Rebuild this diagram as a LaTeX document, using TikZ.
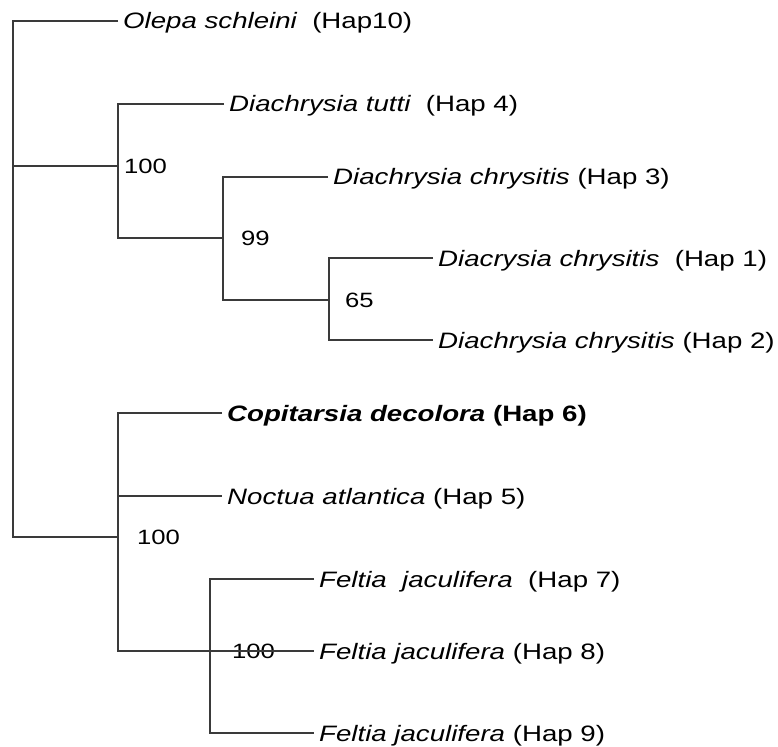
\documentclass[tikz,border=0pt]{standalone}
\usepackage{fontspec}
\setmainfont{Liberation Sans}[FakeStretch=1.24]
\definecolor{TreeGray}{HTML}{3A3A3A}

\begin{document}
\begin{tikzpicture}[x=1pt,y=-1pt,line join=miter,
  tree/.style={TreeGray,line width=1.3pt},
  leaf/.style={anchor=west,inner xsep=5pt,inner ysep=0pt,text height=16pt,text depth=0pt,font=\fontsize{22.3}{25}\selectfont},
  boot/.style={anchor=west,inner sep=0pt,text height=14.8pt,text depth=0pt,font=\fontsize{20.7}{24}\selectfont}]
  \useasboundingbox (0,0) rectangle (778,746);
  % internal nodes
  \coordinate (R) at (13,166); \coordinate (A) at (118,166); \coordinate (B) at (223,238); \coordinate (C) at (329,300);
  \coordinate (D) at (118,537); \coordinate (E) at (210,651);
  % leaves
  \node[leaf] (L10) at (118,21) {\itshape Olepa schleini\upshape\ \ (Hap10)};
  \node[leaf] (L4) at (224,104) {\itshape Diachrysia tutti\upshape\ \ (Hap 4)};
  \node[leaf] (L3) at (328,177) {\itshape Diachrysia chrysitis\upshape\ (Hap 3)};
  \node[leaf] (L1) at (433,258) {\itshape Diacrysia chrysitis\upshape\ \ (Hap 1)};
  \node[leaf] (L2) at (433,340) {\itshape Diachrysia chrysitis\upshape\ (Hap 2)};
  \node[leaf] (L6) at (222,413) {\bfseries\itshape Copitarsia decolora\upshape\ (Hap 6)};
  \node[leaf] (L5) at (222,496) {\itshape Noctua atlantica\upshape\ (Hap 5)};
  \node[leaf] (L7) at (314,579) {\itshape Feltia\ \ jaculifera\upshape\ \ (Hap 7)};
  \node[leaf] (L8) at (314,651) {\itshape Feltia jaculifera\upshape\ (Hap 8)};
  \node[leaf] (L9) at (314,733) {\itshape Feltia jaculifera\upshape\ (Hap 9)};
  % support values
  \node[boot] (bA) at (124,166) {100}; \node[boot] (bB) at (241,238) {99}; \node[boot] (bC) at (345,300) {65};
  \node[boot] (bD) at (137,537) {100}; \node[boot] (bE) at (232,651) {100};
  % branches
  \draw[tree] (L10.west) -| (R) |- (D); \draw[tree] (R) -- (A);
  \draw[tree] (L4.west) -| (A) |- (B); \draw[tree] (L3.west) -| (B) |- (C);
  \draw[tree] (L1.west) -| (C) |- (L2.west);
  \draw[tree] (L6.west) -| (D) |- (E); \draw[tree] (D |- L5.west) -- (L5.west);
  \draw[tree] (L7.west) -| (E) |- (L9.west); \draw[tree] (E) -- (L8.west);
\end{tikzpicture}
\end{document}
